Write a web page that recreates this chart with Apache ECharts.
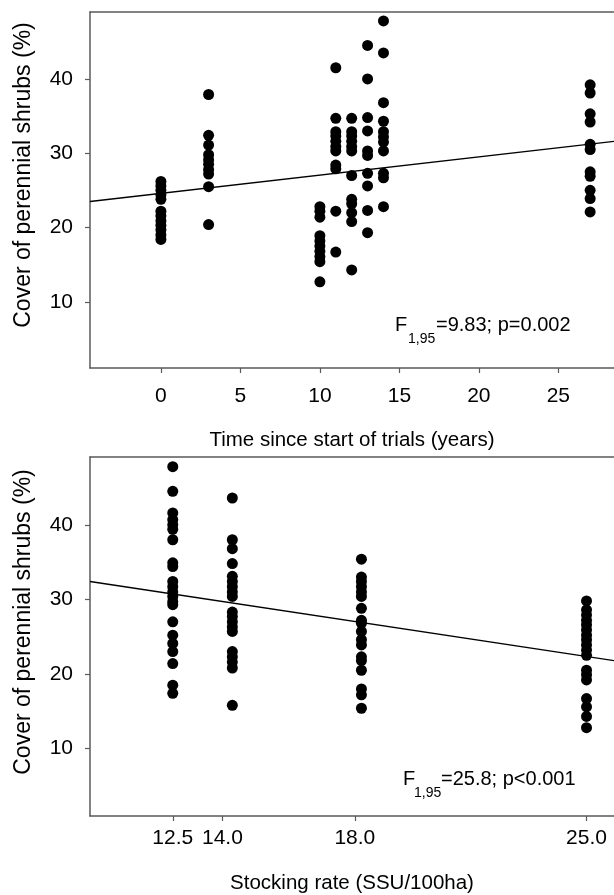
<!DOCTYPE html>
<html><head><meta charset="utf-8">
<script src="https://cdn.jsdelivr.net/npm/echarts@6/dist/echarts.min.js"></script>
<style>html,body{margin:0;padding:0;background:#fff}#c{width:614px;height:895px}</style>
</head><body><div id="c"></div>
<script>
// ---- Top panel: cover vs time since start of trials ----
const topYears = [0, 3, 10, 11, 12, 13, 14, 27];
const topCover0  = [26.2, 25.6, 25.0, 24.4, 23.8, 22.2, 21.6, 20.9, 20.3, 19.7, 19.0, 18.4];
const topCover3  = [37.9, 32.4, 31.1, 29.8, 29.1, 28.5, 27.8, 27.2, 25.5, 20.4];
const topCover10 = [22.8, 22.2, 21.4, 18.9, 18.2, 17.5, 16.8, 16.1, 15.4, 12.7];
const topCover11 = [41.5, 34.7, 32.9, 32.3, 31.6, 30.9, 30.3, 28.4, 27.9, 22.2, 16.7];
const topCover12 = [34.7, 32.9, 32.3, 31.6, 30.9, 30.3, 27.0, 23.8, 23.2, 22.0, 20.8, 14.3];
const topCover13 = [44.5, 40.0, 34.8, 33.0, 30.3, 29.7, 27.3, 25.6, 22.3, 19.3];
const topCover14 = [47.8, 43.5, 36.8, 34.3, 32.9, 32.2, 31.5, 30.3, 27.3, 26.7, 22.8];
const topCover27 = [39.2, 38.1, 35.3, 34.2, 31.2, 30.5, 27.5, 26.9, 25.0, 23.9, 22.1];
const topCoverGroups = [topCover0, topCover3, topCover10, topCover11, topCover12, topCover13, topCover14, topCover27];
const topFitLine = [[-4.46, 23.5], [28.5, 31.6]];
const topTickX = [0, 5, 10, 15, 20, 25];

// ---- Bottom panel: cover vs stocking rate ----
const rates = [12.5, 14.3, 18.2, 25.0];
const rateCover125 = [47.8, 44.5, 41.6, 40.7, 40.0, 39.4, 38.0, 34.9, 34.4, 32.4, 31.7, 31.0, 30.4, 29.7, 29.3, 27.0, 25.2, 24.1, 23.0, 21.4, 18.5, 17.4];
const rateCover143 = [43.6, 38.0, 36.8, 34.8, 33.1, 32.4, 31.7, 31.0, 30.4, 28.3, 27.7, 27.0, 26.3, 25.7, 23.0, 22.3, 21.6, 20.8, 15.8];
const rateCover182 = [35.4, 33.0, 32.4, 31.7, 31.0, 30.4, 28.8, 27.2, 26.8, 25.7, 24.6, 23.9, 22.3, 21.8, 20.5, 18.0, 17.2, 15.4];
const rateCover250 = [29.8, 28.6, 27.9, 27.2, 26.6, 25.9, 25.2, 24.6, 23.9, 23.2, 22.5, 20.5, 19.9, 19.2, 16.7, 15.6, 14.3, 12.8];
const rateCoverGroups = [rateCover125, rateCover143, rateCover182, rateCover250];
const bottomFitLine = [[10, 32.4], [25.83, 21.8]];
const bottomTickX = [12.5, 14.0, 18.0, 25.0];

const tickY = [10, 20, 30, 40];

function pairs(xs, groups) {
  const out = [];
  xs.forEach((x, i) => groups[i].forEach(v => out.push([x, v])));
  return out;
}

const FONT = 'Liberation Sans, Arial, sans-serif';
const AX = '#5a5a5a';

function mainX(grid, min, max, ticks, name, gap, margin, fmt) {
  return {
    type: 'value', gridIndex: grid, min: min, max: max, position: 'bottom',
    axisLine: { show: true, onZero: false, lineStyle: { color: AX, width: 1.5 } },
    axisTick: { show: true, customValues: ticks, length: 5, lineStyle: { color: AX, width: 1.2 } },
    axisLabel: { show: true, customValues: ticks, fontSize: 21, color: '#000', fontFamily: FONT, margin: margin, formatter: fmt },
    splitLine: { show: false },
    name: name, nameLocation: 'middle', nameGap: gap,
    nameTextStyle: { fontSize: 20.5, color: '#000', fontFamily: FONT }
  };
}
function topBorder(grid, min, max) {
  return {
    type: 'value', gridIndex: grid, min: min, max: max, position: 'top',
    axisLine: { show: true, onZero: false, lineStyle: { color: AX, width: 1.5 } },
    axisTick: { show: false }, axisLabel: { show: false }, splitLine: { show: false }
  };
}
function yAx(grid, min, max) {
  return {
    type: 'value', gridIndex: grid, min: min, max: max,
    axisLine: { show: true, onZero: false, lineStyle: { color: AX, width: 1.5 } },
    axisTick: { show: true, customValues: tickY, length: 5, lineStyle: { color: AX, width: 1.2 } },
    axisLabel: { show: true, customValues: tickY, fontSize: 21, color: '#000', fontFamily: FONT, margin: 17 },
    splitLine: { show: false }
  };
}

const chart = echarts.init(document.getElementById('c'), null, { renderer: 'canvas' });
chart.setOption({
  animation: false,
  backgroundColor: '#fff',
  grid: [
    { left: 90, top: 12, right: 0, height: 356 },
    { left: 90, top: 457, right: 0, height: 359 }
  ],
  xAxis: [
    mainX(0, -4.46, 28.5, topTickX, 'Time since start of trials (years)', 62, 18, v => String(v)),
    topBorder(0, -4.46, 28.5),
    mainX(1, 10, 25.83, bottomTickX, 'Stocking rate (SSU/100ha)', 57, 12, v => Number(v).toFixed(1)),
    topBorder(1, 10, 25.83)
  ],
  yAxis: [ yAx(0, 1.1, 49.0), yAx(1, 0.95, 49.1) ],
  series: [
    { type: 'scatter', xAxisIndex: 0, yAxisIndex: 0, data: pairs(topYears, topCoverGroups),
      symbolSize: 11, itemStyle: { color: '#000', opacity: 1 } },
    { type: 'line', xAxisIndex: 0, yAxisIndex: 0, data: topFitLine, symbol: 'none',
      lineStyle: { color: '#000', width: 1.3 } },
    { type: 'scatter', xAxisIndex: 2, yAxisIndex: 1, data: pairs(rates, rateCoverGroups),
      symbolSize: 11, itemStyle: { color: '#000', opacity: 1 } },
    { type: 'line', xAxisIndex: 2, yAxisIndex: 1, data: bottomFitLine, symbol: 'none',
      lineStyle: { color: '#000', width: 1.3 } }
  ],
  graphic: [
    { type: 'text', x: 24, y: 175, rotation: Math.PI / 2,
      style: { text: 'Cover of perennial shrubs (%)', fontSize: 23, fontFamily: FONT, fill: '#000', align: 'center', verticalAlign: 'middle' } },
    { type: 'text', x: 24, y: 622, rotation: Math.PI / 2,
      style: { text: 'Cover of perennial shrubs (%)', fontSize: 23, fontFamily: FONT, fill: '#000', align: 'center', verticalAlign: 'middle' } },
    // top annotation
    { type: 'text', x: 395, y: 325, style: { text: 'F', fontSize: 20, fontFamily: FONT, fill: '#000', align: 'left', verticalAlign: 'middle' } },
    { type: 'text', x: 408, y: 339, style: { text: '1,95', fontSize: 14, fontFamily: FONT, fill: '#000', align: 'left', verticalAlign: 'middle' } },
    { type: 'text', x: 436, y: 325, style: { text: '=9.83; p=0.002', fontSize: 20, fontFamily: FONT, fill: '#000', align: 'left', verticalAlign: 'middle' } },
    // bottom annotation
    { type: 'text', x: 403, y: 779.5, style: { text: 'F', fontSize: 20, fontFamily: FONT, fill: '#000', align: 'left', verticalAlign: 'middle' } },
    { type: 'text', x: 414, y: 793.5, style: { text: '1,95', fontSize: 14, fontFamily: FONT, fill: '#000', align: 'left', verticalAlign: 'middle' } },
    { type: 'text', x: 441, y: 779.5, style: { text: '=25.8; p<0.001', fontSize: 20, fontFamily: FONT, fill: '#000', align: 'left', verticalAlign: 'middle' } }
  ]
});
</script></body></html>
